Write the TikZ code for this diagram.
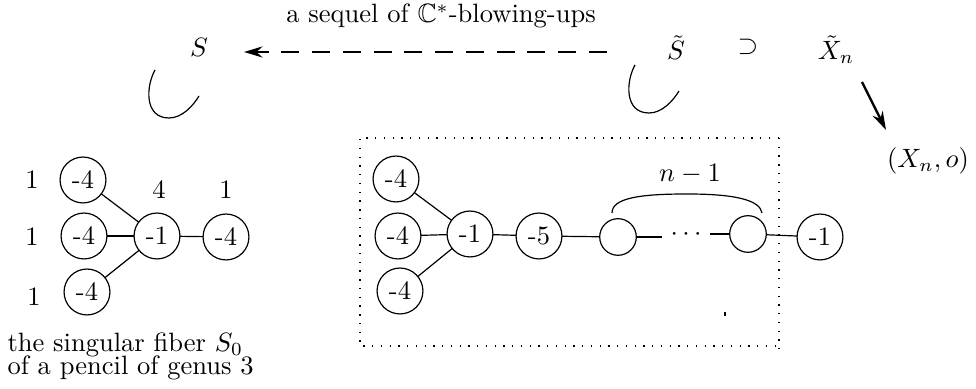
\documentclass[tikz,border=0pt]{standalone}
\usepackage{amssymb}
\usetikzlibrary{arrows.meta}
\begin{document}
\begin{tikzpicture}[x=0.377pt,y=-0.377pt,
  vertex/.style={circle,draw,line width=0.45pt,minimum size=17.3pt,inner sep=0pt,outer sep=0pt},
  blank/.style={circle,draw,line width=0.45pt,minimum size=13.8pt,inner sep=0pt,outer sep=0pt},
  edge/.style={line width=0.45pt},
  lbl/.style={inner sep=0pt},
  dotsnode/.style={inner sep=3.2pt,outer sep=0pt},
  dotbox/.style={line width=0.5pt,dash pattern=on 0.5pt off 2.8pt},
  hookcurve/.pic={\draw[line width=0.45pt] (0,0) .. controls (-9,16) and (-11,48) .. (14,48) .. controls (27,48) and (38,36) .. (44,26);}
]
\useasboundingbox (0,0) rectangle (976,389);

% top row
\node[lbl,anchor=base] (title) at (441,23) {a sequel of $\mathbb{C}^*$-blowing-ups};
\node[lbl,anchor=base] (S) at (199,57) {$S$};
\node[lbl,anchor=base] (St) at (676,60) {$\tilde S$};
\node[lbl] (sup) at (748,47) {$\supset$};
\node[lbl,anchor=base] (Xt) at (836,60) {$\tilde X_n$};
\node[lbl,anchor=base] (Xo) at (928,168) {$(X_n,o)$};
\coordinate (dR) at (607,52);
\coordinate (dL) at (244,52);
\draw[line width=0.8pt,dash pattern=on 6.8pt off 4.8pt,-{Stealth[length=7pt,width=4.2pt]}] (dR) -- (dL);
\coordinate (aS) at (862,82);
\coordinate (aE) at (886,130);
\draw[line width=0.9pt,-{Stealth[length=7pt,width=4.2pt]}] (aS) -- (aE);
\pic at (155,70) {hookcurve};
\pic at (635,65) {hookcurve};

% left graph
\node[vertex] (L1) at (83,180) {-4};
\node[vertex] (L2) at (84,236) {-4};
\node[vertex] (L3) at (87,292) {-4};
\node[vertex] (Lc) at (157,236) {-1};
\node[vertex] (Lr) at (226,237) {-4};
\draw[edge] (L1) -- (Lc);
\draw[edge] (L2) -- (Lc);
\draw[edge] (L3) -- (Lc);
\draw[edge] (Lc) -- (Lr);
\node[lbl] (m1) at (32,180) {1};
\node[lbl] (m2) at (32,237) {1};
\node[lbl] (m3) at (34,297) {1};
\node[lbl] (m4) at (159,190) {4};
\node[lbl] (m5) at (226,190) {1};
\node[lbl,anchor=base west] (cap1) at (7,352) {the singular fiber $S_0$};
\node[lbl,anchor=base west] (cap2) at (7,375) {of a pencil of genus 3};

% right graph
\node[vertex] (R1) at (396,179) {-4};
\node[vertex] (R2) at (398,236) {-4};
\node[vertex] (R3) at (400,291) {-4};
\node[vertex] (Rc) at (470,234) {-1};
\node[vertex] (R5) at (539,236) {-5};
\node[blank] (Ra) at (618,237) {};
\node[dotsnode] (Rd) at (686,235) {$\cdots$};
\node[blank] (Rb) at (748,234) {};
\node[vertex] (Re) at (820,237) {-1};
\draw[edge] (R1) -- (Rc);
\draw[edge] (R2) -- (Rc);
\draw[edge] (R3) -- (Rc);
\draw[edge] (Rc) -- (R5);
\draw[edge] (R5) -- (Ra);
\draw[edge] (Ra) -- (Ra -| Rd.west);
\draw[edge] (Rb -| Rd.east) -- (Rb);
\draw[edge] (Rb) -- (Re);
\draw[edge] (612,213) .. controls (612,198) and (640,194) .. (687,194) .. controls (735,194) and (760,200) .. (762,213);
\node[lbl,anchor=base] (nm1) at (690,182) {$n-1$};

% dotted box
\draw[dotbox] (779,138) -- (360,138) -- (360,346) -- (779,346);
\draw[dotbox] (779,138) -- (779,353);
\draw[line width=0.5pt] (725,312) -- (725,316);
\end{tikzpicture}
\end{document}
